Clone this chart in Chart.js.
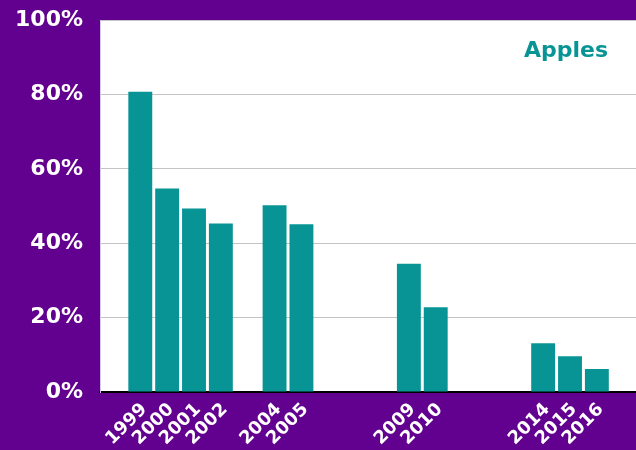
<!DOCTYPE html>
<html>
<head>
<meta charset="utf-8">
<script src="https://cdn.jsdelivr.net/npm/chart.js@4.4.0/dist/chart.umd.min.js"></script>
<style>
  html, body { margin: 0; padding: 0; background: #62008f; overflow: hidden; }
  #wrap { width: 646px; height: 450px; }
</style>
</head>
<body>
<div id="wrap"><canvas id="chart" width="646" height="450"></canvas></div>
<script>
// Years on the category axis (empty slots are years without data)
const years = ['', '1999', '2000', '2001', '2002', '', '2004', '2005', '', '', '',
  '2009', '2010', '', '', '', '2014', '2015', '2016', ''];
// Share in percent
const apples = [null, 80.7, 54.7, 49.3, 45.3, null, 50.2, 45.1, null, null, null,
  34.5, 22.8, null, null, null, 13.1, 9.6, 6.2, null];
const yTicks = [0, 20, 40, 60, 80, 100];
const seriesName = 'Apples';

const teal = '#089494';

// paint the plot area white
const plotBackground = {
  id: 'plotBackground',
  beforeDraw(chart) {
    const { ctx, chartArea } = chart;
    ctx.save();
    ctx.fillStyle = '#ffffff';
    ctx.fillRect(chartArea.left, chartArea.top, chartArea.right - chartArea.left, chartArea.bottom - chartArea.top);
    ctx.restore();
  }
};

// series name in the top right corner of the plot
const seriesLabel = {
  id: 'seriesLabel',
  afterDraw(chart) {
    const { ctx, chartArea } = chart;
    ctx.save();
    ctx.fillStyle = teal;
    ctx.font = 'bold 22px "DejaVu Sans"';
    ctx.textAlign = 'center';
    ctx.textBaseline = 'alphabetic';
    ctx.fillText(seriesName, chartArea.left + 466, chartArea.top + 37);
    ctx.restore();
  }
};

Chart.defaults.font.family = '"DejaVu Sans", Verdana, sans-serif';

new Chart(document.getElementById('chart').getContext('2d'), {
  type: 'bar',
  data: {
    labels: years,
    datasets: [{
      label: seriesName,
      data: apples,
      backgroundColor: teal,
      borderWidth: 0,
      barPercentage: 0.89,
      categoryPercentage: 1.0
    }]
  },
  options: {
    responsive: false,
    animation: false,
    devicePixelRatio: 1,
    layout: { padding: { top: 20, right: 0, left: 0, bottom: 0 } },
    plugins: {
      legend: { display: false },
      tooltip: { enabled: false }
    },
    scales: {
      x: {
        grid: { display: false, drawTicks: false },
        border: { display: true, color: '#000000', width: 2 },
        ticks: {
          color: '#ffffff',
          font: { size: 18, weight: 'bold' },
          minRotation: 45,
          maxRotation: 45,
          autoSkip: false,
          padding: 7,
          labelOffset: 4
        },
        afterFit(scale) { scale.height = 58; }
      },
      y: {
        min: 0,
        max: 100,
        afterBuildTicks(scale) { scale.ticks = yTicks.map(v => ({ value: v })); },
        grid: { color: '#c4c4c4', lineWidth: 1, drawTicks: false },
        border: { display: true, color: '#d8c8e8', width: 1 },
        ticks: {
          color: '#ffffff',
          font: { size: 22, weight: 'bold' },
          padding: 17,
          callback: v => v + '%'
        },
        afterFit(scale) {
          scale.width = 100;
          scale.paddingTop = 0;
          scale.paddingBottom = 0;
        }
      }
    }
  },
  plugins: [plotBackground, seriesLabel]
});
</script>
</body>
</html>
